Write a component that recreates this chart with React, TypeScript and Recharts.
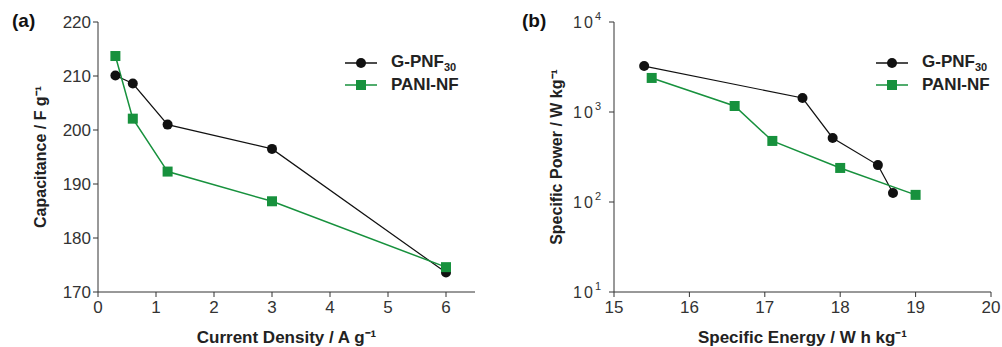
import React from "react";
import { Label, Line, LineChart, XAxis, YAxis } from "recharts";

// (a) capacitance vs current density
const currentDensity = [0.3, 0.6, 1.2, 3, 6];
const capGPNF = [210.1, 208.6, 201.0, 196.5, 173.6];
const capPANI = [213.7, 202.1, 192.3, 186.8, 174.6];
const capTicks = [170, 180, 190, 200, 210, 220];
const densityTicks = [0, 1, 2, 3, 4, 5, 6];

// (b) Ragone plot
const energyGPNF = [15.4, 17.5, 17.9, 18.5, 18.7];
const powerGPNF = [3240, 1430, 515, 257, 126];
const energyPANI = [15.5, 16.6, 17.1, 18.0, 19.0];
const powerPANI = [2390, 1166, 477, 239, 120];
const powerTicks = [10, 100, 1000, 10000];
const energyTicks = [15, 16, 17, 18, 19, 20];

const BLACK = "#111111";
const GREEN = "#17913d";
const AXIS = "#333333";
const FONT = "'Liberation Sans', Arial, sans-serif";

const gpnfA = currentDensity.map((x, i) => ({ x, y: capGPNF[i] }));
const paniA = currentDensity.map((x, i) => ({ x, y: capPANI[i] }));
const gpnfB = energyGPNF.map((x, i) => ({ x, y: powerGPNF[i] }));
const paniB = energyPANI.map((x, i) => ({ x, y: powerPANI[i] }));

function CircleDot(props: any) {
  const { cx, cy, index } = props;
  return <circle key={`c-${index}`} cx={cx} cy={cy} r={5} fill={BLACK} />;
}

function SquareDot(props: any) {
  const { cx, cy, index } = props;
  return <rect key={`s-${index}`} x={cx - 5} y={cy - 5} width={10} height={10} fill={GREEN} />;
}

function PowTick(props: any) {
  const { x, y, payload } = props;
  const e = Math.round(Math.log10(payload.value));
  return (
    <text x={x - 4} y={y} dy={6} textAnchor="end" fill={AXIS} fontSize={16} fontFamily={FONT} letterSpacing={2}>
      <tspan>10</tspan>
      <tspan dy={-8} fontSize={11}>{e}</tspan>
    </text>
  );
}

function LegendBox({ left, top }: { left: number; top: number }) {
  const row = (color: string, square: boolean, label: React.ReactNode) => (
    <div style={{ display: "flex", alignItems: "center", height: 22 }}>
      <svg width={32} height={12}>
        <line x1={0} y1={6} x2={32} y2={6} stroke={color} strokeWidth={1.5} />
        {square ? <rect x={11} y={1} width={10} height={10} fill={color} /> : <circle cx={16} cy={6} r={5} fill={color} />}
      </svg>
      <span style={{ marginLeft: 14, fontWeight: "bold", fontSize: 17, color: "#222", fontFamily: FONT }}>{label}</span>
    </div>
  );
  return (
    <div style={{ position: "absolute", left, top }}>
      {row(BLACK, false, <>G-PNF<sub style={{ fontSize: 11 }}>30</sub></>)}
      {row(GREEN, true, "PANI-NF")}
    </div>
  );
}

const tickStyle = { fill: AXIS, fontSize: 17, fontFamily: FONT };
const xLabelStyle = { fill: "#222", fontSize: 17, fontWeight: "bold", fontFamily: FONT } as any;
const yLabelStyle = { fill: "#222", fontSize: 16, fontWeight: "bold", fontFamily: FONT, textAnchor: "middle" } as any;

function PanelTag({ text, left }: { text: string; left: number }) {
  return (
    <div style={{ position: "absolute", left, top: 10, fontFamily: FONT, fontWeight: "bold", fontSize: 19, color: "#111" }}>
      {text}
    </div>
  );
}

export default function App() {
  return (
    <div style={{ position: "absolute", left: 0, top: 0, width: 1002, height: 347, background: "#fff" }}>
      <PanelTag text="(a)" left={12} />
      <PanelTag text="(b)" left={522} />
      <div style={{ position: "absolute", left: 0, top: 0 }}>
        <LineChart width={500} height={347} margin={{ top: 22, right: 25, bottom: 10, left: 38 }}>
          <XAxis
            type="number"
            dataKey="x"
            domain={[0, 6.5]}
            ticks={densityTicks}
            allowDataOverflow
            tick={tickStyle}
            tickSize={5}
            tickMargin={4}
            stroke={AXIS}
            height={45}
          >
            <Label value="Current Density / A g⁻¹" position="insideBottom" offset={-6} style={xLabelStyle} />
          </XAxis>
          <YAxis
            type="number"
            dataKey="y"
            domain={[170, 220]}
            ticks={capTicks}
            tick={tickStyle}
            tickSize={5}
            stroke={AXIS}
            width={60}
          >
            <Label value="Capacitance / F  g⁻¹" angle={-90} position="insideLeft" offset={2} style={yLabelStyle} />
          </YAxis>
          <Line data={gpnfA} dataKey="y" name="G-PNF30" stroke={BLACK} strokeWidth={1.2} dot={CircleDot} isAnimationActive={false} />
          <Line data={paniA} dataKey="y" name="PANI-NF" stroke={GREEN} strokeWidth={1.5} dot={SquareDot} isAnimationActive={false} />
        </LineChart>
      </div>
      <LegendBox left={345} top={52} />
      <div style={{ position: "absolute", left: 500, top: 0 }}>
        <LineChart width={502} height={347} margin={{ top: 22, right: 11, bottom: 10, left: 54 }}>
          <XAxis
            type="number"
            dataKey="x"
            domain={[15, 20]}
            ticks={energyTicks}
            tick={tickStyle}
            tickSize={5}
            tickMargin={4}
            stroke={AXIS}
            height={45}
          >
            <Label value="Specific Energy / W  h kg⁻¹" position="insideBottom" offset={-6} style={xLabelStyle} />
          </XAxis>
          <YAxis
            type="number"
            dataKey="y"
            scale="log"
            domain={[10, 10000]}
            ticks={powerTicks}
            allowDataOverflow
            tick={<PowTick />}
            tickSize={5}
            stroke={AXIS}
            width={60}
          >
            <Label value="Specific Power   / W kg⁻¹" angle={-90} position="insideLeft" offset={2} style={yLabelStyle} />
          </YAxis>
          <Line data={gpnfB} dataKey="y" name="G-PNF30" stroke={BLACK} strokeWidth={1.2} dot={CircleDot} isAnimationActive={false} />
          <Line data={paniB} dataKey="y" name="PANI-NF" stroke={GREEN} strokeWidth={1.5} dot={SquareDot} isAnimationActive={false} />
        </LineChart>
      </div>
      <LegendBox left={876} top={52} />
    </div>
  );
}
